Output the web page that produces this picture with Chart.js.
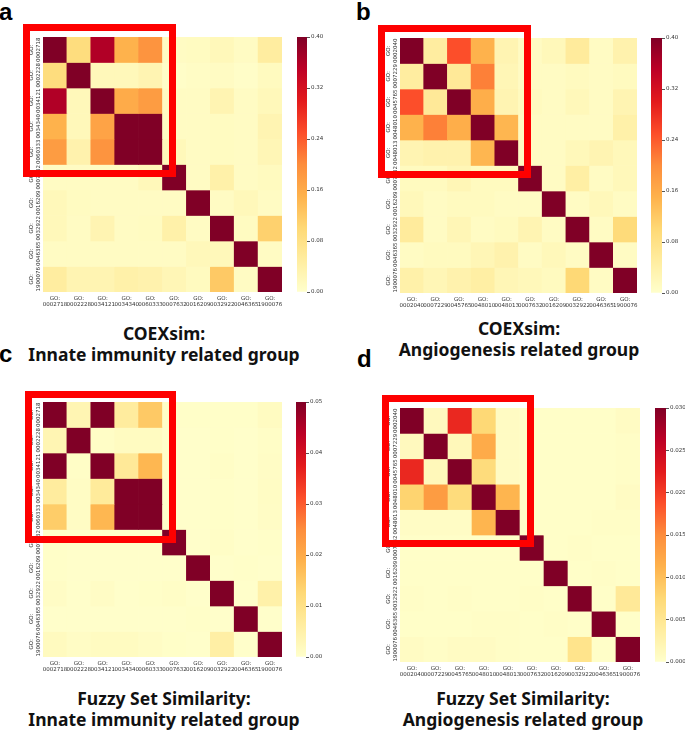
<!DOCTYPE html>
<html>
<head>
<meta charset="utf-8">
<script src="https://cdn.jsdelivr.net/npm/chart.js@4.4.0/dist/chart.umd.min.js"></script>
<style>
  html, body { margin: 0; padding: 0; background: #fff; }
  #page { position: relative; width: 685px; height: 740px; overflow: hidden; }
  canvas { position: absolute; }
  .box { position: absolute; border: 7px solid #fe0000; box-sizing: border-box; z-index: 5; }
  .letter { position: absolute; font: bold 24px "Liberation Sans", Arial, sans-serif; color: #000; line-height: 24px; }
  .title { position: absolute; width: 340px; text-align: center; font: bold 17.5px "Noto Sans", sans-serif;
           line-height: 21px; color: #111; white-space: nowrap; }
</style>
</head>
<body>
<div id="page"></div>
<script>
// GO terms (rows == columns)
const innateTerms = ['0002718', '0002228', '0034121', '0034340', '0060333',
                     '0007632', '0016209', '0032922', '0046365', '1900076'];
const angioTerms  = ['0002040', '0007229', '0045765', '0048010', '0048013',
                     '0007632', '0016209', '0032922', '0046365', '1900076'];

// a: COEXsim, innate immunity
const coexInnate = [
  [1.00, 0.09, 0.36, 0.15, 0.19, 0.010, 0.012, 0.020, 0.010, 0.050],
  [0.09, 1.00, 0.020, 0.020, 0.030, 0.005, 0.008, 0.010, 0.005, 0.015],
  [0.36, 0.020, 1.00, 0.16, 0.18, 0.010, 0.010, 0.030, 0.010, 0.020],
  [0.15, 0.020, 0.17, 1.00, 0.62, 0.010, 0.010, 0.012, 0.010, 0.030],
  [0.18, 0.035, 0.19, 0.62, 1.00, 0.020, 0.010, 0.012, 0.010, 0.025],
  [0.010, 0.010, 0.010, 0.010, 0.020, 1.00, 0.010, 0.040, 0.010, 0.015],
  [0.020, 0.012, 0.010, 0.010, 0.010, 0.010, 1.00, 0.010, 0.020, 0.010],
  [0.020, 0.010, 0.030, 0.010, 0.012, 0.040, 0.010, 1.00, 0.012, 0.11],
  [0.010, 0.010, 0.010, 0.010, 0.010, 0.010, 0.020, 0.020, 1.00, 0.010],
  [0.050, 0.030, 0.030, 0.040, 0.035, 0.025, 0.015, 0.12, 0.010, 1.00]
];

// b: COEXsim, angiogenesis
const coexAngio = [
  [1.00, 0.050, 0.25, 0.15, 0.030, 0.010, 0.020, 0.055, 0.010, 0.035],
  [0.050, 1.00, 0.060, 0.21, 0.025, 0.010, 0.010, 0.015, 0.010, 0.015],
  [0.25, 0.060, 1.00, 0.155, 0.030, 0.015, 0.010, 0.020, 0.010, 0.030],
  [0.15, 0.21, 0.155, 1.00, 0.145, 0.010, 0.010, 0.010, 0.010, 0.040],
  [0.030, 0.035, 0.035, 0.145, 1.00, 0.010, 0.010, 0.020, 0.030, 0.020],
  [0.015, 0.015, 0.025, 0.015, 0.015, 1.00, 0.010, 0.045, 0.010, 0.020],
  [0.020, 0.010, 0.015, 0.015, 0.010, 0.010, 1.00, 0.010, 0.020, 0.010],
  [0.055, 0.010, 0.025, 0.010, 0.015, 0.030, 0.010, 1.00, 0.010, 0.095],
  [0.010, 0.015, 0.015, 0.025, 0.035, 0.010, 0.020, 0.010, 1.00, 0.010],
  [0.040, 0.025, 0.035, 0.045, 0.025, 0.020, 0.015, 0.10, 0.010, 1.00]
];

// c: fuzzy set similarity, innate immunity
const fuzzyInnate = [
  [1.00, 0.0035, 0.12, 0.0065, 0.015, 0.0005, 0.0005, 0.0005, 0.0005, 0.0015],
  [0.0035, 1.00, 0.0008, 0.0015, 0.0015, 0.0003, 0.0003, 0.0005, 0.0003, 0.0008],
  [0.12, 0.0008, 1.00, 0.0075, 0.018, 0.0003, 0.0003, 0.0008, 0.0003, 0.0010],
  [0.0065, 0.0012, 0.0070, 1.00, 0.30, 0.0003, 0.0003, 0.0005, 0.0003, 0.0012],
  [0.0145, 0.0012, 0.018, 0.30, 1.00, 0.0003, 0.0003, 0.0005, 0.0003, 0.0010],
  [0.0005, 0.0003, 0.0003, 0.0003, 0.0003, 1.00, 0.0003, 0.0008, 0.0003, 0.0005],
  [0.0005, 0.0003, 0.0003, 0.0003, 0.0003, 0.0003, 1.00, 0.0003, 0.0005, 0.0003],
  [0.0010, 0.0003, 0.0010, 0.0003, 0.0005, 0.0008, 0.0003, 1.00, 0.0003, 0.0050],
  [0.0003, 0.0003, 0.0003, 0.0003, 0.0003, 0.0003, 0.0005, 0.0003, 1.00, 0.0003],
  [0.0018, 0.0010, 0.0015, 0.0015, 0.0010, 0.0005, 0.0003, 0.0055, 0.0003, 1.00]
];

// d: fuzzy set similarity, angiogenesis
const fuzzyAngio = [
  [1.00, 0.0012, 0.0215, 0.0075, 0.0008, 0.0003, 0.0003, 0.0003, 0.0003, 0.0008],
  [0.0012, 1.00, 0.0015, 0.0120, 0.0008, 0.0003, 0.0003, 0.0003, 0.0003, 0.0005],
  [0.0215, 0.0015, 1.00, 0.0070, 0.0008, 0.0003, 0.0003, 0.0003, 0.0003, 0.0005],
  [0.0080, 0.0135, 0.0070, 1.00, 0.0110, 0.0003, 0.0003, 0.0003, 0.0003, 0.0008],
  [0.0006, 0.0006, 0.0006, 0.0110, 1.00, 0.0003, 0.0003, 0.0003, 0.0005, 0.0005],
  [0.0003, 0.0003, 0.0003, 0.0003, 0.0003, 1.00, 0.0003, 0.0005, 0.0003, 0.0003],
  [0.0003, 0.0003, 0.0003, 0.0003, 0.0003, 0.0003, 1.00, 0.0003, 0.0005, 0.0003],
  [0.0005, 0.0003, 0.0005, 0.0003, 0.0003, 0.0005, 0.0003, 1.00, 0.0003, 0.0045],
  [0.0003, 0.0003, 0.0003, 0.0005, 0.0005, 0.0003, 0.0005, 0.0003, 1.00, 0.0003],
  [0.0008, 0.0005, 0.0008, 0.0008, 0.0005, 0.0003, 0.0003, 0.0055, 0.0003, 1.00]
];

// colour bar ticks
const coexTicks  = [0, 0.08, 0.16, 0.24, 0.32, 0.40];
const fuzzyInnateTicks = [0, 0.01, 0.02, 0.03, 0.04, 0.05];
const fuzzyAngioTicks  = [0, 0.005, 0.010, 0.015, 0.020, 0.025, 0.030];

// YlOrRd
const cmap = ['#ffffcc', '#ffeda0', '#fed976', '#feb24c', '#fd8d3c',
              '#fc4e2a', '#e31a1c', '#bd0026', '#800026'];
const cmapRgb = cmap.map(h => [1, 3, 5].map(i => parseInt(h.substr(i, 2), 16)));

function colorFor(t) {
    t = Math.max(0, Math.min(1, t));
    const p = t * (cmapRgb.length - 1);
    const i = Math.min(Math.floor(p), cmapRgb.length - 2);
    const f = p - i;
    const c = cmapRgb[i].map((v, k) => Math.round(v + (cmapRgb[i + 1][k] - v) * f));
    return `rgb(${c[0]},${c[1]},${c[2]})`;
}

const tickFont = { family: 'DejaVu Sans', size: 5.5 };
const tickColor = '#333';

const rowLabels = {
    id: 'rowLabels',
    afterDraw(chart, args, opts) {
        const { ctx, chartArea, scales: { y } } = chart;
        ctx.save();
        ctx.font = '5.5px "DejaVu Sans"';
        ctx.fillStyle = tickColor;
        ctx.textAlign = 'center';
        ctx.textBaseline = 'middle';
        opts.terms.forEach((t, i) => {
            ctx.save();
            ctx.translate(chartArea.left - 11, y.getPixelForValue(i + 0.5));
            ctx.rotate(-Math.PI / 2);
            ctx.fillText('GO:', 0, 0);
            ctx.fillText(t, 0, 6.5);
            ctx.restore();
        });
        ctx.restore();
    }
};

const page = document.getElementById('page');

function addCanvas(left, top, w, h) {
    const c = document.createElement('canvas');
    c.width = w; c.height = h;
    c.style.left = left + 'px'; c.style.top = top + 'px';
    c.style.width = w + 'px'; c.style.height = h + 'px';
    page.appendChild(c);
    return c;
}

function heatmap(g, terms, matrix, vmax) {
    const el = addCanvas(g.x - 20, g.y - 4, g.w + 36, g.h + 24);
    const datasets = matrix.map((row, r) => ({
        data: row.map(() => [r, r + 1]),
        backgroundColor: ctx => colorFor(row[ctx.dataIndex] / vmax),
        borderWidth: 0,
        grouped: false,
        barPercentage: 1,
        categoryPercentage: 1
    }));
    new Chart(el, {
        type: 'bar',
        data: { labels: terms.map(t => ['GO:', t]), datasets },
        options: {
            responsive: false,
            animation: false,
            layout: { autoPadding: false, padding: { left: 0, top: 4, right: 16, bottom: 0 } },
            plugins: { legend: { display: false }, tooltip: { enabled: false }, rowLabels: { terms } },
            scales: {
                x: {
                    grid: { display: false, drawTicks: false },
                    border: { display: false },
                    ticks: { font: tickFont, color: tickColor, padding: 3, maxRotation: 0, autoSkip: false },
                    afterFit: s => { s.height = 20; }
                },
                y: {
                    type: 'linear', min: 0, max: 10, reverse: true,
                    grid: { display: false, drawTicks: false },
                    border: { display: false },
                    ticks: { display: false },
                    afterFit: s => { s.width = 20; }
                }
            }
        },
        plugins: [rowLabels]
    });
}

function colorbar(b, vmax, ticks, decimals) {
    const el = addCanvas(b.x, b.y - 6, b.w + 30, b.h + 12);
    new Chart(el, {
        type: 'bar',
        data: {
            labels: [''],
            datasets: [{
                data: [[0, vmax]],
                backgroundColor: ctx => {
                    const { chart } = ctx;
                    if (!chart.chartArea) return cmap[0];
                    const y = chart.scales.y;
                    const grad = chart.ctx.createLinearGradient(0, y.getPixelForValue(0), 0, y.getPixelForValue(vmax));
                    cmap.forEach((c, i) => grad.addColorStop(i / (cmap.length - 1), c));
                    return grad;
                },
                borderWidth: 0,
                barPercentage: 1,
                categoryPercentage: 1
            }]
        },
        options: {
            responsive: false,
            animation: false,
            layout: { autoPadding: false, padding: { left: 0, top: 6, right: 0, bottom: 6 } },
            plugins: { legend: { display: false }, tooltip: { enabled: false } },
            scales: {
                x: { display: false },
                y: {
                    position: 'right', min: 0, max: vmax,
                    afterBuildTicks: s => { s.ticks = ticks.map(v => ({ value: v })); },
                    ticks: { font: tickFont, color: tickColor, padding: 1, callback: v => v.toFixed(decimals) },
                    grid: { drawOnChartArea: false, tickLength: 3, color: '#555' },
                    border: { display: false },
                    afterFit: s => { s.width = 30; }
                }
            }
        }
    });
}

function addDiv(cls, css, html) {
    const d = document.createElement('div');
    d.className = cls;
    Object.assign(d.style, css);
    d.innerHTML = html;
    page.appendChild(d);
}

// a
heatmap({ x: 43, y: 37, w: 239, h: 255 }, innateTerms, coexInnate, 0.40);
colorbar({ x: 297, y: 37, w: 10, h: 255 }, 0.40, coexTicks, 2);
// b
heatmap({ x: 400, y: 38, w: 237, h: 255 }, angioTerms, coexAngio, 0.40);
colorbar({ x: 651, y: 38, w: 11, h: 255 }, 0.40, coexTicks, 2);
// c
heatmap({ x: 43, y: 402, w: 239, h: 255 }, innateTerms, fuzzyInnate, 0.05);
colorbar({ x: 296, y: 402, w: 10, h: 255 }, 0.05, fuzzyInnateTicks, 2);
// d
heatmap({ x: 400, y: 408, w: 240, h: 254 }, angioTerms, fuzzyAngio, 0.030);
colorbar({ x: 655, y: 408, w: 11, h: 254 }, 0.030, fuzzyAngioTicks, 3);

// highlight boxes
addDiv('box', { left: '23px', top: '24px', width: '153px', height: '153px' }, '');
addDiv('box', { left: '378px', top: '25px', width: '153px', height: '153px' }, '');
addDiv('box', { left: '25px', top: '391px', width: '151px', height: '152px' }, '');
addDiv('box', { left: '382px', top: '395px', width: '152px', height: '152px' }, '');

// panel letters
addDiv('letter', { left: '-1px', top: '0px' }, 'a');
addDiv('letter', { left: '356px', top: '0px' }, 'b');
addDiv('letter', { left: '-1px', top: '342px' }, 'c');
addDiv('letter', { left: '357px', top: '347px' }, 'd');

// titles
addDiv('title', { left: (164 - 170) + 'px', top: '323px' }, 'COEXsim:<br>Innate immunity related group');
addDiv('title', { left: (519 - 170) + 'px', top: '318px' }, 'COEXsim:<br>Angiogenesis related group');
addDiv('title', { left: (164 - 170) + 'px', top: '688px' }, 'Fuzzy Set Similarity:<br>Innate immunity related group');
addDiv('title', { left: (523 - 170) + 'px', top: '688px' }, 'Fuzzy Set Similarity:<br>Angiogenesis related group');
</script>
</body>
</html>
